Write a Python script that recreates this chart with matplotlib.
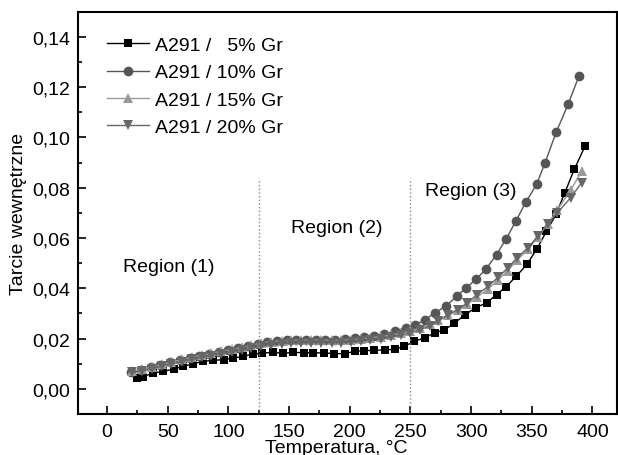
import matplotlib
matplotlib.use('Agg')
import matplotlib.pyplot as plt
from matplotlib.ticker import MultipleLocator, FuncFormatter

plt.rcParams['font.family'] = ['Liberation Sans', 'DejaVu Sans']

# A291 / 5% Gr
t5 = [25, 30, 38, 46, 55, 63, 71, 79, 87, 96, 104, 112, 120, 128, 137, 145, 153, 162, 170, 179,
      187, 196, 204, 212, 220, 229, 237, 245, 253, 262, 270, 278, 286, 295, 304, 313, 321, 329, 337, 346,
      354, 362, 370, 377, 385, 394]
v5 = [0.0045, 0.0048, 0.0063, 0.0069, 0.0079, 0.0089, 0.0100, 0.0109, 0.0113, 0.0116,
      0.0122, 0.0129, 0.0138, 0.0142, 0.0145, 0.0141, 0.0145, 0.0144, 0.0143, 0.0143,
      0.0140, 0.0140, 0.0149, 0.0152, 0.0153, 0.0155, 0.0157, 0.0169, 0.0189, 0.0203,
      0.0223, 0.0235, 0.0260, 0.0295, 0.0323, 0.0343, 0.0375, 0.0407, 0.0447, 0.0495,
      0.0555, 0.0626, 0.0694, 0.0778, 0.0873, 0.0967]

# A291 / 10% Gr
t10 = [20, 28, 36, 44, 52, 60, 68, 76, 84, 92, 100, 108, 116, 124, 132, 140, 148, 156, 164, 172,
       180, 188, 196, 204, 212, 220, 228, 237, 246, 254, 262, 270, 279, 288, 296, 304, 312, 321, 329, 337,
       345, 354, 361, 370, 380, 389]
v10 = [0.0068, 0.0075, 0.0085, 0.0095, 0.0105, 0.0115, 0.0124, 0.0132, 0.0140, 0.0147,
       0.0154, 0.0161, 0.0170, 0.0180, 0.0186, 0.0190, 0.0193, 0.0195, 0.0196, 0.0196,
       0.0195, 0.0195, 0.0198, 0.0202, 0.0206, 0.0211, 0.0218, 0.0229, 0.0243, 0.0255,
       0.0275, 0.0302, 0.0328, 0.0368, 0.0403, 0.0435, 0.0475, 0.0534, 0.0598, 0.0668,
       0.0742, 0.0814, 0.0900, 0.1020, 0.1133, 0.1246]

# A291 / 15% Gr  and  A291 / 20% Gr
t15 = [21, 29, 37, 45, 53, 62, 70, 78, 86, 94, 103, 111, 119, 127, 135, 144, 152, 160, 168, 176,
       185, 193, 201, 209, 217, 226, 234, 242, 250, 258, 266, 273, 281, 289, 297, 305, 314, 322, 330, 338,
       347, 355, 363, 371, 382, 391]
v15 = [0.0070, 0.0078, 0.0087, 0.0097, 0.0107, 0.0117, 0.0126, 0.0134, 0.0142, 0.0150,
       0.0157, 0.0165, 0.0174, 0.0183, 0.0188, 0.0191, 0.0193, 0.0194, 0.0194, 0.0194,
       0.0193, 0.0194, 0.0196, 0.0199, 0.0203, 0.0208, 0.0214, 0.0221, 0.0230, 0.0242,
       0.0256, 0.0272, 0.0292, 0.0312, 0.0337, 0.0365, 0.0397, 0.0432, 0.0470, 0.0512,
       0.0555, 0.0603, 0.0655, 0.0712, 0.0790, 0.0865]
t20 = t15
v20 = [0.0065, 0.0072, 0.0080, 0.0090, 0.0099, 0.0108, 0.0117, 0.0125, 0.0132, 0.0139,
       0.0146, 0.0153, 0.0161, 0.0170, 0.0176, 0.0180, 0.0182, 0.0183, 0.0184, 0.0184,
       0.0183, 0.0184, 0.0187, 0.0190, 0.0194, 0.0199, 0.0205, 0.0213, 0.0222, 0.0235,
       0.0250, 0.0270, 0.0295, 0.0315, 0.0343, 0.0375, 0.0408, 0.0443, 0.0480, 0.0522,
       0.0562, 0.0607, 0.0654, 0.0700, 0.0760, 0.0820]

labels = ['A291 /   5% Gr', 'A291 / 10% Gr', 'A291 / 15% Gr', 'A291 / 20% Gr']
regions = ['Region (1)', 'Region (2)', 'Region (3)']
borders = [125, 250]

fig = plt.figure(figsize=(6.18, 4.56), dpi=100)
ax = fig.add_axes([0.126, 0.09, 0.872, 0.882])

ax.plot(t5, v5, '-s', color='#000000', lw=1, ms=6, mew=0, label=labels[0])
ax.plot(t10, v10, '-o', color='#555555', lw=1, ms=7, mew=0, label=labels[1])
ax.plot(t15, v15, '-^', color='#9a9a9a', lw=1, ms=7, mew=0, label=labels[2])
ax.plot(t20, v20, '-v', color='#666666', lw=1, ms=7, mew=0, label=labels[3])

for b in borders:
    ax.plot([b, b], [-0.01, 0.084], ls=':', color='#888888', lw=1)

ax.text(51, 0.0487, regions[0], fontsize=14, ha='center', va='center')
ax.text(189, 0.0640, regions[1], fontsize=14, ha='center', va='center')
ax.text(300, 0.0790, regions[2], fontsize=14, ha='center', va='center')

ax.set_xlim(-24, 420)
ax.set_ylim(-0.01, 0.15)
ax.xaxis.set_major_locator(MultipleLocator(50))
ax.xaxis.set_minor_locator(MultipleLocator(25))
ax.yaxis.set_major_locator(MultipleLocator(0.02))
ax.yaxis.set_minor_locator(MultipleLocator(0.01))
ax.yaxis.set_major_formatter(FuncFormatter(lambda v, p: ('%.2f' % v).replace('.', ',')))
ax.tick_params(which='both', direction='in', labelsize=14, width=1.2)
ax.tick_params(which='major', length=6)
ax.tick_params(which='minor', length=3)
ax.tick_params(axis='x', pad=6.5)
ax.tick_params(axis='y', pad=5.5)
for s in ax.spines.values():
    s.set_linewidth(1.5)

ax.set_xlabel('Temperatura, °C', fontsize=14)
ax.xaxis.set_label_coords(0.48, -0.062)
ax.set_ylabel('Tarcie wewnętrzne', fontsize=14, labelpad=4)

ax.legend(loc='upper left', bbox_to_anchor=(0.039, 0.958), frameon=False, fontsize=14,
          handlelength=2.2, handletextpad=0.3, labelspacing=0.5, borderaxespad=0)

fig.savefig('out.png', dpi=100)
